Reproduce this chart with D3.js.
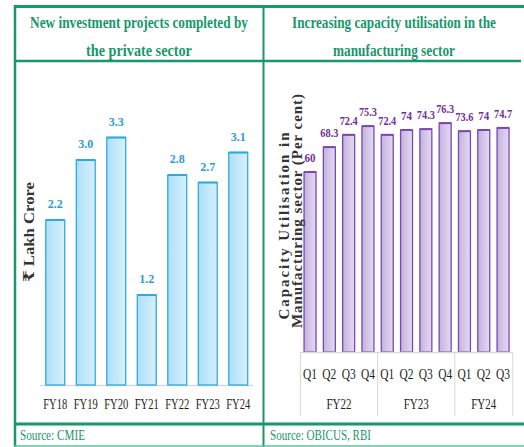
<!DOCTYPE html>
<html><head><meta charset="utf-8">
<script src="https://cdn.jsdelivr.net/npm/d3@7"></script>
<style>body{margin:0;background:#fff}svg{display:block}
.sf{font-family:"Liberation Serif","Times New Roman","DejaVu Serif",serif;}
</style>
</head><body>
<script>
// ---- data ----
const invCategories = ["FY18","FY19","FY20","FY21","FY22","FY23","FY24"];
const invValues = [2.2, 3.0, 3.3, 1.2, 2.8, 2.7, 3.1];
const cuQuarters = ["Q1","Q2","Q3","Q4","Q1","Q2","Q3","Q4","Q1","Q2","Q3"];
const cuYears = ["FY22","FY22","FY22","FY22","FY23","FY23","FY23","FY23","FY24","FY24","FY24"];
const cuValues = [60, 68.3, 72.4, 75.3, 72.4, 74, 74.3, 76.3, 73.6, 74, 74.7];
const cuLabels = ["60","68.3","72.4","75.3","72.4","74","74.3","76.3","73.6","74","74.7"];

const W = 524, H = 447;
const green = "#17976c";
const svg = d3.select("body").append("svg").attr("width", W).attr("height", H);
const defs = svg.append("defs");
const gb = defs.append("linearGradient").attr("id","gBlue").attr("x1","0").attr("x2","1").attr("y1","0").attr("y2","0");
gb.append("stop").attr("offset","0").attr("stop-color","#ace0f9");
gb.append("stop").attr("offset","1").attr("stop-color","#d8f0fc");
const gp = defs.append("linearGradient").attr("id","gPurple").attr("x1","0").attr("x2","1").attr("y1","0").attr("y2","0");
gp.append("stop").attr("offset","0").attr("stop-color","#c4b2de");
gp.append("stop").attr("offset","1").attr("stop-color","#e4dbf1");

// ---- frame ----
const frame = svg.append("g");
frame.append("line").attr("x1",14).attr("x2",524).attr("y1",6.5).attr("y2",6.5).attr("stroke",green).attr("stroke-width",3);
frame.append("line").attr("x1",15).attr("x2",15).attr("y1",5).attr("y2",447).attr("stroke",green).attr("stroke-width",2.5);
frame.append("line").attr("x1",263.5).attr("x2",263.5).attr("y1",6).attr("y2",447).attr("stroke",green).attr("stroke-width",2);
frame.append("line").attr("x1",14).attr("x2",521).attr("y1",61).attr("y2",61).attr("stroke",green).attr("stroke-width",2.5);
frame.append("line").attr("x1",14).attr("x2",524).attr("y1",424).attr("y2",424).attr("stroke",green).attr("stroke-width",3);
frame.append("line").attr("x1",14).attr("x2",524).attr("y1",446).attr("y2",446).attr("stroke","#5cc3a0").attr("stroke-width",1.5);

function txt(g){ return g.append("text").attr("class","sf"); }

// titles: horizontally condensed via scale so the box stays honest
function title(x, y, t, len){
  const g = svg.append("g");
  const el = txt(g).attr("x",0).attr("y",0).attr("text-anchor","middle")
    .style("font-weight","bold").style("font-size","16px").attr("fill",green).text(t);
  const nat = el.node().getComputedTextLength();
  g.attr("transform",`translate(${x},${y}) scale(${len/nat},1)`);
}
title(139, 28, "New investment projects completed by", 218);
title(139, 56, "the private sector", 106);
title(394, 28, "Increasing capacity utilisation in the", 204);
title(394, 56, "manufacturing sector", 122);

// sources
txt(svg).attr("x",20).attr("y",440).style("font-size","14px")
  .attr("fill",green).attr("textLength",65).attr("lengthAdjust","spacingAndGlyphs").text("Source: CMIE");
txt(svg).attr("x",270).attr("y",440).style("font-size","14px")
  .attr("fill",green).attr("textLength",101).attr("lengthAdjust","spacingAndGlyphs").text("Source: OBICUS, RBI");

// ---- left chart ----
const xL = d3.scaleBand().domain(invCategories).range([40, 253.5]).paddingInner(0.38).paddingOuter(0.19);
const yL = d3.scaleLinear().domain([0, 3.6]).range([385, 115]);
const gL = svg.append("g");
gL.append("line").attr("x1",40).attr("x2",253).attr("y1",385.5).attr("y2",385.5).attr("stroke","#d9d9d9").attr("stroke-width",1.5);
gL.selectAll("rect.b").data(invValues).join("rect")
  .attr("x",(d,i)=>xL(invCategories[i])).attr("width",xL.bandwidth())
  .attr("y",d=>yL(d)).attr("height",d=>yL(0)-yL(d))
  .attr("fill","url(#gBlue)").attr("stroke","#2eaae3").attr("stroke-width",1.3);
gL.selectAll("line.top").data(invValues).join("line")
  .attr("x1",(d,i)=>xL(invCategories[i])).attr("x2",(d,i)=>xL(invCategories[i])+xL.bandwidth())
  .attr("y1",d=>yL(d)).attr("y2",d=>yL(d)).attr("stroke","#2eaae3").attr("stroke-width",2);
gL.selectAll("text.v").data(invValues).join("text").attr("class","sf v")
  .attr("x",(d,i)=>xL(invCategories[i])+xL.bandwidth()/2).attr("y",d=>yL(d)-12)
  .attr("text-anchor","middle").style("font-weight","bold").style("font-size","13px")
  .attr("fill","#2b9ed8").attr("textLength",15).attr("lengthAdjust","spacingAndGlyphs")
  .text(d=>d3.format(".1f")(d));
const axL = d3.axisBottom(xL).tickSize(0).tickPadding(14);
const axLg = gL.append("g").attr("transform","translate(0,385)").call(axL);
axLg.attr("font-family",null);
axLg.select(".domain").remove();
axLg.selectAll("text").attr("class","sf").style("font-size","14px").attr("fill","#222")
  .attr("textLength",24).attr("lengthAdjust","spacingAndGlyphs");
txt(gL).attr("transform","translate(34,232) rotate(-90)").attr("text-anchor","middle")
  .style("font-weight","bold").style("font-size","15px").attr("fill","#333")
  .attr("textLength",100).attr("lengthAdjust","spacingAndGlyphs").text("₹ Lakh Crore");

// ---- right chart ----
const idx = cuValues.map((d,i)=>i);
const xR = d3.scaleBand().domain(idx).range([300.4, 512.7]).paddingInner(0.38).paddingOuter(0.19);
const yR = d3.scaleLinear().domain([0, 90]).range([352, 82]);
const gR = svg.append("g");
gR.selectAll("rect").data(cuValues).join("rect")
  .attr("x",(d,i)=>xR(i)).attr("width",xR.bandwidth())
  .attr("y",d=>yR(d)).attr("height",d=>yR(0)-yR(d))
  .attr("fill","url(#gPurple)").attr("stroke","#7b47b5").attr("stroke-width",1.3);
gR.selectAll("line.top").data(cuValues).join("line")
  .attr("x1",(d,i)=>xR(i)).attr("x2",(d,i)=>xR(i)+xR.bandwidth())
  .attr("y1",d=>yR(d)).attr("y2",d=>yR(d)).attr("stroke","#7b47b5").attr("stroke-width",2);
gR.selectAll("text.v").data(cuValues).join("text").attr("class","sf v")
  .attr("x",(d,i)=>xR(i)+xR.bandwidth()/2).attr("y",d=>yR(d)-10)
  .attr("text-anchor","middle").style("font-weight","bold").style("font-size","12px")
  .attr("fill","#7030a0").attr("textLength",(d,i)=>cuLabels[i].length>2?18:11).attr("lengthAdjust","spacingAndGlyphs")
  .text((d,i)=>cuLabels[i]);
// category box
const boxTop = 352.5, boxBot = 416;
gR.append("line").attr("x1",300).attr("x2",513).attr("y1",boxTop).attr("y2",boxTop).attr("stroke","#d9d9d9").attr("stroke-width",1.5);
const years = Array.from(new Set(cuYears));
const groupEdges = [xR.range()[0]];
years.forEach(y=>{
  const last = cuYears.lastIndexOf(y);
  groupEdges.push(last < cuYears.length-1 ? (xR(last)+xR.bandwidth()+xR(last+1))/2 : xR.range()[1]);
});
gR.selectAll("line.sep").data(groupEdges).join("line")
  .attr("x1",d=>d).attr("x2",d=>d).attr("y1",boxTop).attr("y2",boxBot).attr("stroke","#d9d9d9").attr("stroke-width",1);
const axR = d3.axisBottom(xR).tickSize(0).tickPadding(17).tickFormat(i=>cuQuarters[i]);
const axRg = gR.append("g").attr("transform","translate(0,352)").call(axR);
axRg.attr("font-family",null);
axRg.select(".domain").remove();
axRg.selectAll("text").attr("class","sf").style("font-size","14px").attr("fill","#222")
  .attr("textLength",14).attr("lengthAdjust","spacingAndGlyphs");
gR.selectAll("text.yr").data(years).join("text").attr("class","sf yr")
  .attr("x",(d,i)=>(groupEdges[i]+groupEdges[i+1])/2).attr("y",409)
  .attr("text-anchor","middle").style("font-size","14px").attr("fill","#222")
  .attr("textLength",25).attr("lengthAdjust","spacingAndGlyphs").text(d=>d);
txt(gR).attr("transform","translate(289,226) rotate(-90)").attr("text-anchor","middle")
  .style("font-weight","bold").style("font-size","15px").attr("fill","#333")
  .attr("textLength",187).attr("lengthAdjust","spacing").text("Capacity Utilisation in");
txt(gR).attr("transform","translate(302,211) rotate(-90)").attr("text-anchor","middle")
  .style("font-weight","bold").style("font-size","15px").attr("fill","#333")
  .attr("textLength",234).attr("lengthAdjust","spacing").text("Manufacturing sector (Per cent)");
</script>
</body></html>
